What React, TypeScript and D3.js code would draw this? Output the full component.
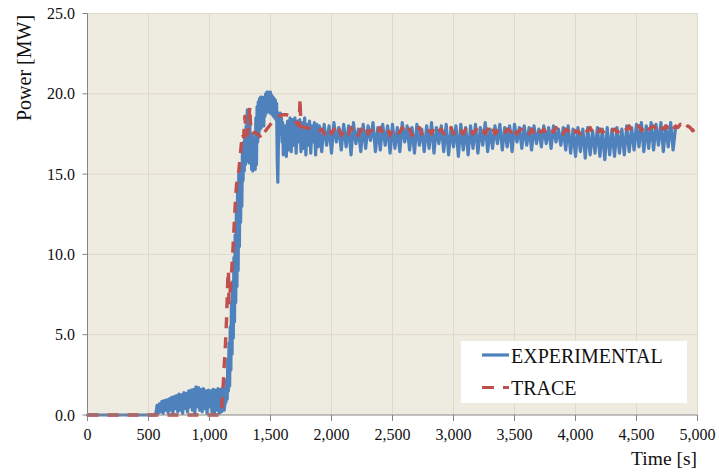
import React from "react";
import * as d3 from "d3";

// ---- Data ----
const xTicks = [0, 500, 1000, 1500, 2000, 2500, 3000, 3500, 4000, 4500, 5000];
const yTicks = [0, 5, 10, 15, 20, 25];

// EXPERIMENTAL: flat start
const expStart: [number, number][] = [[0, 0], [550, 0]];
// EXPERIMENTAL: noisy low power, 560..1120 s every 10 s
const expPreStart = 560;
const expPreStep = 10;
const expPre = [
  0.05, 0.6, 0.1, 0.7, 0.2, 0.85, 0.1, 0.9, 0.3, 0.95, 0.15, 1.0, 0.3, 1.1, 0.1, 1.15, 0.4, 1.2, 0.2, 1.3,
  0.3, 1.25, 0.1, 1.4, 0.4, 1.35, 0.2, 1.5, 0.5, 1.55, 0.3, 1.6, 0.1, 1.75, 0.5, 1.7, 0.3, 1.6, 0.2, 1.65,
  0.4, 1.5, 0.1, 1.55, 0.5, 1.5, 0.2, 1.6, 0.1, 1.55, 0.3, 1.65, 0.1, 1.6, 0.2, 1.7, 0.3,
];
// EXPERIMENTAL: power ramp and overshoot
const expTransient: [number, number][] = [
  [1125, 0.6], [1130, 1.6], [1135, 0.8], [1140, 2.2], [1145, 1.0], [1150, 3.5], [1155, 1.5], [1160, 4.5],
  [1165, 1.8], [1170, 5.5], [1175, 2.8], [1180, 7.0], [1185, 3.8], [1190, 8.3], [1195, 4.8], [1200, 9.8],
  [1205, 5.8], [1210, 11.2], [1215, 7.0], [1220, 12.8], [1225, 8.0], [1230, 14.2], [1235, 9.0], [1240, 15.0],
  [1245, 10.5], [1250, 15.4], [1255, 12.0], [1260, 15.6], [1265, 13.0], [1270, 16.5], [1275, 14.6], [1280, 17.0],
  [1285, 15.2], [1290, 17.3], [1295, 15.6], [1300, 18.0], [1305, 15.8], [1310, 19.0], [1315, 16.0], [1320, 18.6],
  [1325, 15.7], [1330, 18.4], [1335, 16.2], [1340, 17.5], [1345, 15.3], [1350, 17.4], [1355, 15.2], [1360, 17.2],
  [1365, 15.3], [1370, 17.0], [1375, 15.3], [1380, 18.5], [1385, 15.6], [1390, 19.2], [1395, 17.0], [1400, 19.5],
  [1405, 17.5], [1410, 19.7], [1415, 17.8], [1420, 19.8], [1425, 17.9], [1430, 19.8], [1435, 18.2], [1440, 19.6],
  [1445, 18.0], [1450, 19.8], [1455, 18.6], [1460, 20.0], [1465, 18.8], [1470, 20.1], [1475, 18.9], [1480, 20.1],
  [1485, 19.0], [1490, 20.0], [1495, 18.8], [1500, 20.1], [1505, 18.9], [1510, 19.9], [1515, 18.7], [1520, 19.8],
  [1525, 18.6], [1530, 19.7], [1535, 18.5], [1540, 19.6], [1545, 18.4], [1550, 19.4], [1555, 16.0], [1560, 14.5],
  [1565, 17.0], [1570, 18.8], [1575, 18.2], [1580, 18.8], [1585, 17.5], [1590, 18.5], [1595, 17.0], [1600, 18.2],
  [1605, 16.2], [1620, 18.0], [1630, 16.1], [1640, 18.3], [1650, 16.5], [1660, 18.5], [1670, 16.4], [1680, 18.4],
  [1690, 16.8], [1700, 18.5], [1710, 16.3], [1720, 18.3], [1730, 17.0], [1740, 18.4], [1750, 16.4], [1760, 18.2],
  [1770, 16.6], [1780, 18.5], [1790, 16.2], [1800, 18.1], [1810, 16.8], [1820, 18.3], [1830, 16.3], [1840, 18.0],
  [1850, 17.0], [1860, 18.2], [1870, 16.2], [1880, 18.1], [1890, 16.7], [1900, 18.0],
];
// EXPERIMENTAL: oscillating plateau, 1920..4820 s every 20 s
const expPlatStart = 1920;
const expPlatStep = 20;
const expPlateau = [
  16.4, 18.1, 16.8, 18.0, 16.3, 18.2, 17.0, 17.9, 16.5, 18.1, 16.7, 18.0, 16.2, 18.2, 16.9, 17.8, 16.4, 18.1, 16.6, 18.0,
  17.1, 18.2, 16.4, 17.9, 16.5, 18.1, 16.8, 18.0, 16.3, 18.1,
  16.6, 17.9, 16.4, 18.2, 17.0, 18.0, 16.5, 17.9, 16.3, 18.1, 16.8, 17.8, 16.4, 18.0, 16.6, 18.2, 16.3, 17.9, 16.9, 18.0,
  16.4, 18.1, 16.2, 17.9, 16.7, 18.0, 16.1, 18.1, 16.5, 17.9,
  16.2, 18.0, 16.6, 18.1, 16.3, 17.9, 16.8, 18.2, 16.4, 17.8, 16.6, 18.0, 16.9, 18.1, 16.5, 17.9, 16.7, 18.0, 16.4, 18.1,
  17.0, 17.9, 16.6, 18.0, 16.8, 17.9, 16.5, 18.0, 16.9, 17.8,
  16.7, 18.0, 16.9, 17.9, 16.6, 18.0, 17.0, 17.8, 16.8, 17.9, 16.5, 18.0, 16.3, 17.8, 16.1, 17.9, 16.4, 17.8, 16.0, 17.9,
  16.2, 17.7, 16.3, 17.9, 16.1, 17.8, 15.9, 17.9, 16.2, 17.8,
  16.1, 17.9, 16.3, 17.8, 16.2, 18.0, 16.4, 17.9, 16.5, 18.1, 16.7, 18.2, 16.4, 18.0, 16.6, 18.2, 16.5, 18.1, 16.8, 18.2,
  16.4, 18.0, 16.7, 18.2, 16.5, 17.9,
];

// TRACE: start, ramp and overshoot
const traceTransient: [number, number][] = [
  [0, 0], [1090, 0], [1100, 0.3], [1110, 1.5], [1120, 3.0], [1130, 4.3], [1140, 6.0], [1150, 8.5], [1155, 9.0],
  [1160, 7.0], [1170, 7.8], [1180, 8.8], [1190, 10.0], [1200, 11.5], [1210, 13.0], [1220, 14.2], [1230, 14.8],
  [1240, 15.2], [1250, 16.0], [1260, 16.8], [1270, 17.5], [1280, 17.3], [1290, 18.6], [1300, 17.6], [1310, 17.4],
  [1320, 18.0], [1330, 19.2], [1340, 17.6], [1350, 17.5], [1370, 17.6], [1390, 17.5], [1410, 17.4], [1430, 17.2],
  [1450, 17.6], [1480, 17.9], [1510, 18.2], [1540, 18.4], [1570, 18.6], [1600, 18.7], [1630, 18.7], [1660, 18.6],
  [1690, 18.4], [1720, 18.1], [1735, 18.0], [1742, 19.7], [1749, 18.0], [1770, 17.9], [1800, 17.9], [1830, 17.8],
  [1860, 17.7], [1900, 17.7],
];
// TRACE: plateau, 1920..5000 s every 20 s
const tracePlatStart = 1920;
const tracePlatStep = 20;
const tracePlateau = [
  17.8, 17.5, 17.7, 17.9, 17.5, 17.8, 17.6, 17.9, 17.4, 17.7, 17.8, 17.5, 17.9, 17.6, 17.7, 17.4, 17.8, 17.6, 17.9, 17.5,
  17.7, 17.8, 17.5, 17.6, 17.9, 17.5, 17.7, 17.8, 17.4, 17.7,
  17.8, 17.5, 17.6, 17.9, 17.5, 17.7, 17.8, 17.4, 17.7, 17.6, 17.9, 17.5, 17.8, 17.6, 17.7, 17.5, 17.9, 17.6, 17.7, 17.8,
  17.5, 17.7, 17.6, 17.9, 17.5, 17.8, 17.6, 17.7, 17.5, 17.8,
  17.6, 17.8, 17.5, 17.7, 17.9, 17.6, 17.7, 17.5, 17.8, 17.6, 17.9, 17.5, 17.7, 17.8, 17.6, 17.5, 17.8, 17.7, 17.6, 17.9,
  17.5, 17.7, 17.8, 17.6, 17.7, 17.5, 17.8, 17.6, 17.9, 17.7,
  17.6, 17.8, 17.5, 17.7, 17.8, 17.6, 17.9, 17.6, 17.7, 17.5, 17.8, 17.7, 17.6, 17.9, 17.6, 17.7, 17.5, 17.8, 17.6, 17.7,
  17.9, 17.6, 17.7, 17.5, 17.8, 17.6, 17.7, 17.8, 17.6, 17.7,
  17.8, 17.6, 17.7, 17.9, 17.7, 17.8, 18.0, 17.7, 17.9, 17.8, 18.0, 17.7, 17.9, 18.1, 17.8, 17.9, 18.0, 17.8, 18.1, 17.9,
  17.8, 18.0, 17.9, 18.1, 17.8, 18.0, 17.9, 18.1, 17.9, 17.8, 18.0, 17.9, 17.7, 17.8, 17.5,
];

const seriesNames = ["EXPERIMENTAL", "TRACE"];

// ---- build series ----
const sampled = (start: number, step: number, vals: number[]): [number, number][] =>
  vals.map((v, i) => [start + i * step, v]);

const expData: [number, number][] = [
  ...expStart,
  ...sampled(expPreStart, expPreStep, expPre),
  ...expTransient,
  ...sampled(expPlatStart, expPlatStep, expPlateau),
];
const traceData: [number, number][] = [
  ...traceTransient,
  ...sampled(tracePlatStart, tracePlatStep, tracePlateau),
];

const W = 719;
const H = 476;
const M = { left: 87.5, right: 697.5, top: 13.5, bottom: 415 };
const BLUE = "#4F81BD";
const RED = "#C0504D";
const FONT = "'Liberation Serif', 'Times New Roman', serif";

export default function App() {
  const x = d3.scaleLinear().domain([0, 5000]).range([M.left, M.right]);
  const y = d3.scaleLinear().domain([0, 25]).range([M.bottom, M.top]);
  const line = d3
    .line<[number, number]>()
    .x((d) => x(d[0]))
    .y((d) => y(d[1]));
  const fmtX = d3.format(",");
  const fmtY = d3.format(".1f");

  return (
    <svg
      width={W}
      height={H}
      style={{ position: "absolute", left: 0, top: 0, background: "#fff", fontFamily: FONT }}
    >
      <rect x={M.left} y={M.top} width={M.right - M.left} height={M.bottom - M.top} fill="#EEEBE0" />
      {/* grid */}
      {xTicks.slice(1).map((t) => (
        <line key={"gx" + t} x1={x(t)} x2={x(t)} y1={M.top} y2={M.bottom} stroke="#DEDACA" strokeWidth={1} />
      ))}
      {yTicks.slice(1).map((t) => (
        <line key={"gy" + t} x1={M.left} x2={M.right} y1={y(t)} y2={y(t)} stroke="#DEDACA" strokeWidth={1} />
      ))}
      {/* series */}
      <path d={line(expData) || ""} fill="none" stroke={BLUE} strokeWidth={3.2} strokeLinejoin="round" strokeLinecap="round" />
      <path
        d={line(traceData) || ""}
        fill="none"
        stroke={RED}
        strokeWidth={3.4}
        strokeDasharray="11 9"
        strokeLinejoin="round"
      />
      {/* axes */}
      <line x1={M.left} x2={M.left} y1={M.top} y2={M.bottom} stroke="#868686" strokeWidth={1} />
      <line x1={M.left} x2={M.right} y1={M.bottom} y2={M.bottom} stroke="#868686" strokeWidth={1} />
      {xTicks.map((t) => (
        <g key={"tx" + t}>
          <line x1={x(t)} x2={x(t)} y1={M.bottom} y2={M.bottom + 6} stroke="#868686" />
          <text x={x(t)} y={440} textAnchor="middle" fontSize={16} fill="#111">
            {fmtX(t)}
          </text>
        </g>
      ))}
      {yTicks.map((t) => (
        <g key={"ty" + t}>
          <line x1={M.left - 5} x2={M.left} y1={y(t)} y2={y(t)} stroke="#868686" />
          <text x={75} y={y(t) + 5.5} textAnchor="end" fontSize={16} fill="#111">
            {fmtY(t)}
          </text>
        </g>
      ))}
      {/* axis titles */}
      <text x={697} y={465} textAnchor="end" fontSize={19.5} fill="#111">
        Time [s]
      </text>
      <text transform={`translate(31,68) rotate(-90)`} textAnchor="middle" fontSize={20} fill="#111">
        Power [MW]
      </text>
      {/* legend */}
      <rect x={461} y={341} width={226} height={62} fill="#ffffff" />
      <line x1={482} x2={509} y1={355} y2={355} stroke={BLUE} strokeWidth={3.2} />
      <text x={511} y={363} fontSize={20} fill="#111">
        {seriesNames[0]}
      </text>
      <line x1={482} x2={509} y1={387.5} y2={387.5} stroke={RED} strokeWidth={3.2} strokeDasharray="12 9" />
      <text x={511} y={394.5} fontSize={20} fill="#111">
        {seriesNames[1]}
      </text>
    </svg>
  );
}
